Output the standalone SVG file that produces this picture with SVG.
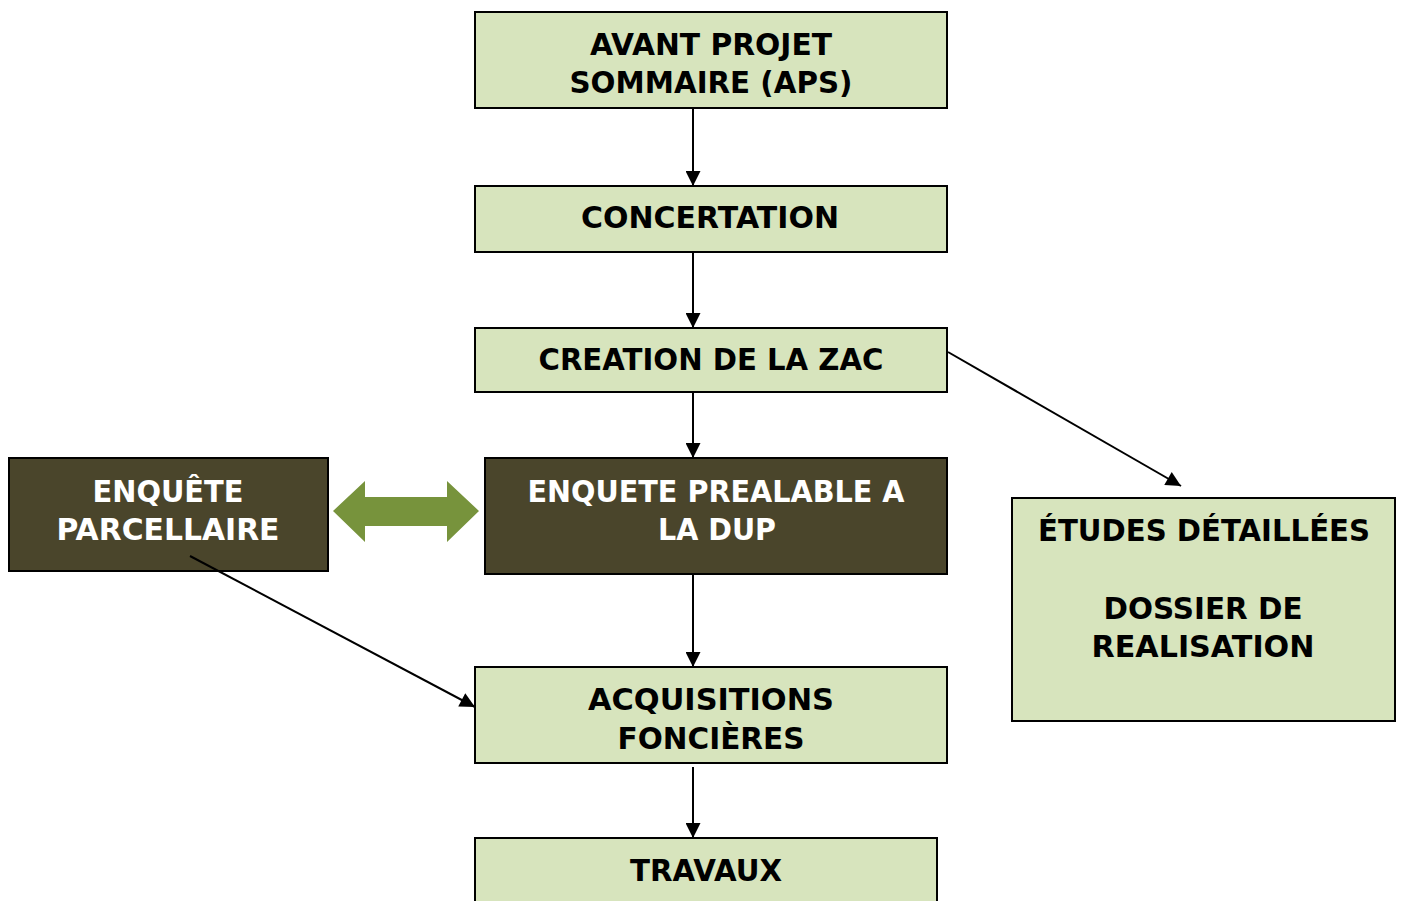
<svg xmlns="http://www.w3.org/2000/svg" width="1401" height="901" viewBox="0 0 1401 901">
<defs>
<style>
.lt{fill:#d7e4bd;stroke:#000;stroke-width:2}
.dk{fill:#4a452b;stroke:#000;stroke-width:2}
.t{font-family:"DejaVu Sans",Verdana,sans-serif;font-weight:bold;font-size:31px;text-anchor:middle;fill:#000}
.w{fill:#fff}
.c{stroke:#000;stroke-width:2;fill:none;marker-end:url(#ah)}
</style>
<marker id="ah" viewBox="0 0 10 10" refX="10" refY="5" markerUnits="userSpaceOnUse" markerWidth="16" markerHeight="15" orient="auto">
<path d="M0,0 L10,5 L0,10 z" fill="#000"/>
</marker>
</defs>
<rect width="1401" height="901" fill="#fff"/>
<g id="aps">
<rect class="lt" x="475" y="12" width="472" height="96"/>
<text class="t" x="711" y="55" textLength="242" lengthAdjust="spacingAndGlyphs">AVANT PROJET</text>
<text class="t" x="711" y="93" textLength="283" lengthAdjust="spacingAndGlyphs">SOMMAIRE (APS)</text>
</g>
<g id="concertation">
<rect class="lt" x="475" y="186" width="472" height="66"/>
<text class="t" x="710" y="228" textLength="258" lengthAdjust="spacingAndGlyphs">CONCERTATION</text>
</g>
<g id="creation">
<rect class="lt" x="475" y="328" width="472" height="64"/>
<text class="t" x="711" y="370" textLength="345" lengthAdjust="spacingAndGlyphs">CREATION DE LA ZAC</text>
</g>
<g id="enquete-dup">
<rect class="dk" x="485" y="458" width="462" height="116"/>
<text class="t w" x="716" y="502" textLength="377" lengthAdjust="spacingAndGlyphs">ENQUETE PREALABLE A</text>
<text class="t w" x="717" y="540" textLength="118" lengthAdjust="spacingAndGlyphs">LA DUP</text>
</g>
<g id="enquete-parcellaire">
<rect class="dk" x="9" y="458" width="319" height="113"/>
<text class="t w" x="168" y="502" textLength="151" lengthAdjust="spacingAndGlyphs">ENQUÊTE</text>
<text class="t w" x="168" y="540" textLength="223" lengthAdjust="spacingAndGlyphs">PARCELLAIRE</text>
</g>
<g id="etudes">
<rect class="lt" x="1012" y="498" width="383" height="223"/>
<text class="t" x="1204" y="541" textLength="332" lengthAdjust="spacingAndGlyphs">ÉTUDES DÉTAILLÉES</text>
<text class="t" x="1203" y="619" textLength="199" lengthAdjust="spacingAndGlyphs">DOSSIER DE</text>
<text class="t" x="1203" y="657" textLength="223" lengthAdjust="spacingAndGlyphs">REALISATION</text>
</g>
<g id="acquisitions">
<rect class="lt" x="475" y="667" width="472" height="96"/>
<text class="t" x="711" y="710" textLength="246" lengthAdjust="spacingAndGlyphs">ACQUISITIONS</text>
<text class="t" x="711" y="749" textLength="187" lengthAdjust="spacingAndGlyphs">FONCIÈRES</text>
</g>
<g id="travaux">
<rect class="lt" x="475" y="838" width="462" height="80"/>
<text class="t" x="706" y="881" textLength="152" lengthAdjust="spacingAndGlyphs">TRAVAUX</text>
</g>
<g id="connectors">
<line class="c" x1="693" y1="109" x2="693" y2="186"/>
<line class="c" x1="693" y1="253" x2="693" y2="328"/>
<line class="c" x1="693" y1="393" x2="693" y2="458"/>
<line class="c" x1="693" y1="575" x2="693" y2="667"/>
<line class="c" x1="693" y1="767" x2="693" y2="838"/>
<line class="c" x1="948" y1="352" x2="1181" y2="486"/>
<line class="c" x1="190" y1="556" x2="475" y2="707"/>
<path id="dbl" d="M333,511 L365,481 L365,497 L447,497 L447,481 L479,511 L447,542 L447,526 L365,526 L365,542 z" fill="#77933c"/>
</g>
</svg>
